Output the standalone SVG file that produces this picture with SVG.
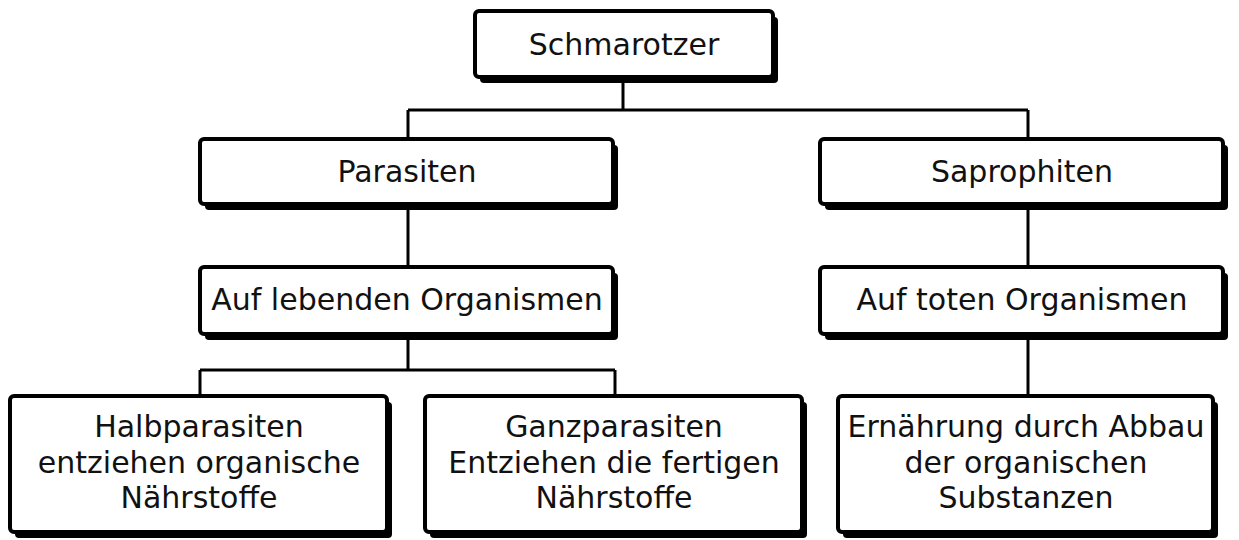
<svg xmlns="http://www.w3.org/2000/svg" width="1239" height="540" viewBox="0 0 1239 540">
<style>
.sh{fill:#000;}
.bx{fill:#fff;stroke:#000;stroke-width:4;}
.t{font-family:"DejaVu Sans","Liberation Sans",sans-serif;font-size:30px;fill:#111;text-anchor:middle;}
.c{fill:none;stroke:#000;stroke-width:3;}
</style>
<rect width="1239" height="540" fill="#fff"/>
<g id="connectors">
<path class="c" d="M623 80 V110 M408 110 H1028 M408 110 V139 M1028 110 V139"/>
<path class="c" d="M408 206 V267"/>
<path class="c" d="M1028 206 V267"/>
<path class="c" d="M408 336 V370 M200 370 H615 M200 370 V396 M615 370 V396"/>
<path class="c" d="M1028 336 V396"/>
</g>
<g id="n-schmarotzer">
<rect class="sh" x="480" y="17" width="298" height="66" rx="4"/>
<rect class="bx" x="475" y="11" width="298" height="66" rx="4"/>
<text class="t" x="624" y="55">Schmarotzer</text>
</g>
<g id="n-parasiten">
<rect class="sh" x="205" y="145" width="413" height="65" rx="4"/>
<rect class="bx" x="200" y="139" width="413" height="65" rx="4"/>
<text class="t" x="407" y="182">Parasiten</text>
</g>
<g id="n-saprophiten">
<rect class="sh" x="825" y="145" width="403" height="65" rx="4"/>
<rect class="bx" x="820" y="139" width="403" height="65" rx="4"/>
<text class="t" x="1022" y="182">Saprophiten</text>
</g>
<g id="n-lebend">
<rect class="sh" x="205" y="273" width="413" height="67" rx="4"/>
<rect class="bx" x="200" y="267" width="413" height="67" rx="4"/>
<text class="t" x="407" y="310">Auf lebenden Organismen</text>
</g>
<g id="n-tot">
<rect class="sh" x="825" y="273" width="403" height="67" rx="4"/>
<rect class="bx" x="820" y="267" width="403" height="67" rx="4"/>
<text class="t" x="1022" y="310">Auf toten Organismen</text>
</g>
<g id="n-halb">
<rect class="sh" x="15" y="402" width="377" height="136" rx="4"/>
<rect class="bx" x="10" y="396" width="377" height="136" rx="4"/>
<text class="t" x="199" y="437">Halbparasiten</text>
<text class="t" x="199" y="473">entziehen organische</text>
<text class="t" x="199" y="508">Nährstoffe</text>
</g>
<g id="n-ganz">
<rect class="sh" x="430" y="402" width="377" height="136" rx="4"/>
<rect class="bx" x="425" y="396" width="377" height="136" rx="4"/>
<text class="t" x="614" y="437">Ganzparasiten</text>
<text class="t" x="614" y="473">Entziehen die fertigen</text>
<text class="t" x="614" y="508">Nährstoffe</text>
</g>
<g id="n-ernaehrung">
<rect class="sh" x="843" y="402" width="375" height="136" rx="4"/>
<rect class="bx" x="838" y="396" width="375" height="136" rx="4"/>
<text class="t" x="1026" y="437">Ernährung durch Abbau</text>
<text class="t" x="1026" y="473">der organischen</text>
<text class="t" x="1026" y="508">Substanzen</text>
</g>
</svg>
